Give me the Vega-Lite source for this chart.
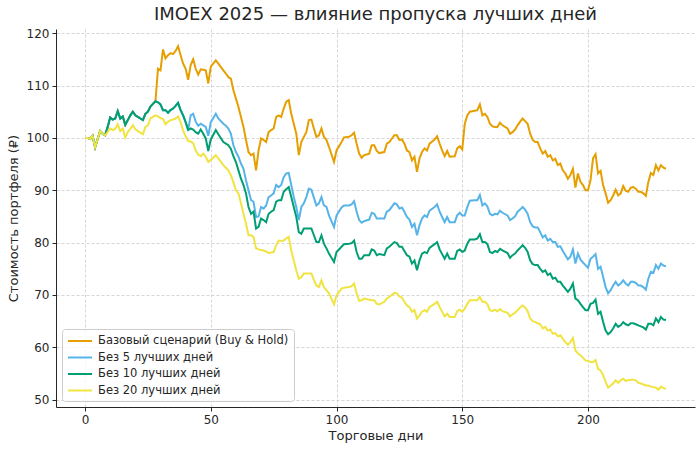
{
  "$schema": "https://vega.github.io/schema/vega-lite/v6.json",
  "width": 639,
  "height": 378,
  "autosize": {"type": "none"},
  "padding": {"left": 56, "top": 29, "right": 5, "bottom": 44},
  "background": "white",
  "title": {"text": "IMOEX 2025 — влияние пропуска лучших дней", "fontSize": 18, "font": "DejaVu Sans", "fontWeight": "normal", "color": "#262626", "offset": 3},
  "data": {"values": [
    {"d":0,"s0":100,"s1":100,"s2":100,"s3":100},
    {"d":1,"s0":100,"s1":100,"s2":100,"s3":100},
    {"d":2,"s0":99.8,"s1":99.8,"s2":99.8,"s3":99.8},
    {"d":3,"s0":100.4,"s1":100.4,"s2":100.4,"s3":100.4},
    {"d":4,"s0":98.2,"s1":98.2,"s2":98.2,"s3":98.2},
    {"d":5,"s0":99.8,"s1":99.8,"s2":99.8,"s3":99.8},
    {"d":6,"s0":101.3,"s1":101.3,"s2":101.3,"s3":101.3},
    {"d":7,"s0":100.8,"s1":100.8,"s2":100.8,"s3":100.8},
    {"d":8,"s0":100.5,"s1":100.5,"s2":100.5,"s3":100.5},
    {"d":9,"s0":102.1,"s1":102.1,"s2":102.1,"s3":101.1},
    {"d":10,"s0":103.9,"s1":103.9,"s2":103.9,"s3":101.8},
    {"d":11,"s0":103.5,"s1":103.5,"s2":103.5,"s3":101.5},
    {"d":12,"s0":103.7,"s1":103.7,"s2":103.7,"s3":101.7},
    {"d":13,"s0":105.1,"s1":105.1,"s2":105.1,"s3":102.6},
    {"d":14,"s0":103.7,"s1":103.7,"s2":103.7,"s3":101.3},
    {"d":15,"s0":104.1,"s1":104.1,"s2":104.1,"s3":101.8},
    {"d":16,"s0":102.5,"s1":102.5,"s2":102.5,"s3":100.1},
    {"d":17,"s0":103.4,"s1":103.4,"s2":103.4,"s3":101.1},
    {"d":18,"s0":104.3,"s1":104.3,"s2":104.3,"s3":101.7},
    {"d":19,"s0":105.0,"s1":105.0,"s2":105.0,"s3":102.4},
    {"d":20,"s0":104.3,"s1":104.3,"s2":104.3,"s3":101.7},
    {"d":21,"s0":104.0,"s1":104.0,"s2":104.0,"s3":101.3},
    {"d":22,"s0":103.7,"s1":103.7,"s2":103.7,"s3":101.0},
    {"d":23,"s0":103.4,"s1":103.4,"s2":103.4,"s3":100.7},
    {"d":24,"s0":104.6,"s1":104.6,"s2":104.6,"s3":102.1},
    {"d":25,"s0":105.0,"s1":105.0,"s2":105.0,"s3":102.4},
    {"d":26,"s0":106.0,"s1":106.0,"s2":106.0,"s3":103.7},
    {"d":27,"s0":106.5,"s1":106.5,"s2":106.5,"s3":104.0},
    {"d":28,"s0":107.0,"s1":107.0,"s2":107.0,"s3":104.3},
    {"d":29,"s0":113.2,"s1":106.8,"s2":106.8,"s3":104.1},
    {"d":30,"s0":112.9,"s1":106.4,"s2":106.4,"s3":103.8},
    {"d":31,"s0":116.9,"s1":105.3,"s2":105.3,"s3":103.6},
    {"d":32,"s0":115.2,"s1":105.3,"s2":105.3,"s3":102.6},
    {"d":33,"s0":115.8,"s1":104.8,"s2":104.8,"s3":103.1},
    {"d":34,"s0":116.2,"s1":105.3,"s2":105.3,"s3":103.4},
    {"d":35,"s0":116.0,"s1":105.6,"s2":105.6,"s3":103.5},
    {"d":36,"s0":116.6,"s1":106.1,"s2":106.1,"s3":103.7},
    {"d":37,"s0":117.5,"s1":106.7,"s2":106.7,"s3":104.1},
    {"d":38,"s0":115.8,"s1":105.3,"s2":105.3,"s3":103.0},
    {"d":39,"s0":114.2,"s1":104.3,"s2":104.3,"s3":101.4},
    {"d":40,"s0":113.2,"s1":103.0,"s2":103.0,"s3":100.3},
    {"d":41,"s0":111.1,"s1":101.5,"s2":101.5,"s3":99.4},
    {"d":42,"s0":113.9,"s1":104.3,"s2":101.8,"s3":99.3},
    {"d":43,"s0":115.0,"s1":104.6,"s2":101.6,"s3":99.0},
    {"d":44,"s0":113.2,"s1":103.1,"s2":101.1,"s3":97.6},
    {"d":45,"s0":112.1,"s1":102.3,"s2":100.8,"s3":96.8},
    {"d":46,"s0":113.1,"s1":102.7,"s2":101.6,"s3":96.5},
    {"d":47,"s0":113.0,"s1":102.4,"s2":100.8,"s3":97.0},
    {"d":48,"s0":112.9,"s1":102.1,"s2":99.9,"s3":96.4},
    {"d":49,"s0":110.4,"s1":100.4,"s2":97.5,"s3":95.4},
    {"d":50,"s0":113.6,"s1":103.0,"s2":99.7,"s3":95.8},
    {"d":52,"s0":114.8,"s1":104.6,"s2":101.5,"s3":96.7},
    {"d":53,"s0":114.2,"s1":103.7,"s2":100.7,"s3":96.1},
    {"d":55,"s0":112.9,"s1":102.7,"s2":99.2,"s3":94.8},
    {"d":56,"s0":112.3,"s1":102.3,"s2":98.9,"s3":94.3},
    {"d":57,"s0":111.6,"s1":101.8,"s2":98.6,"s3":93.8},
    {"d":58,"s0":111.3,"s1":100.8,"s2":97.9,"s3":92.9},
    {"d":59,"s0":109.1,"s1":98.6,"s2":96.5,"s3":91.5},
    {"d":60,"s0":107.5,"s1":97.3,"s2":95.4,"s3":90.0},
    {"d":61,"s0":105.9,"s1":96.4,"s2":93.8,"s3":89.4},
    {"d":62,"s0":104.0,"s1":95.1,"s2":92.2,"s3":87.5},
    {"d":63,"s0":102.1,"s1":94.1,"s2":91.0,"s3":85.5},
    {"d":64,"s0":99.6,"s1":91.9,"s2":89.4,"s3":83.6},
    {"d":65,"s0":97.3,"s1":90.0,"s2":86.8,"s3":81.4},
    {"d":66,"s0":96.7,"s1":88.1,"s2":85.5,"s3":81.4},
    {"d":67,"s0":97.0,"s1":87.8,"s2":85.9,"s3":81.1},
    {"d":68,"s0":93.8,"s1":84.9,"s2":82.7,"s3":78.9},
    {"d":69,"s0":97.6,"s1":85.0,"s2":83.0,"s3":78.7},
    {"d":70,"s0":99.9,"s1":86.8,"s2":84.6,"s3":78.6},
    {"d":71,"s0":99.6,"s1":86.5,"s2":84.3,"s3":78.5},
    {"d":72,"s0":99.2,"s1":87.1,"s2":83.9,"s3":78.3},
    {"d":73,"s0":101.1,"s1":88.7,"s2":85.5,"s3":78.0},
    {"d":74,"s0":101.5,"s1":89.0,"s2":85.9,"s3":78.1},
    {"d":75,"s0":101.8,"s1":89.4,"s2":86.2,"s3":78.2},
    {"d":76,"s0":104.0,"s1":91.0,"s2":87.8,"s3":79.5},
    {"d":77,"s0":104.3,"s1":90.6,"s2":88.1,"s3":80.4},
    {"d":78,"s0":104.0,"s1":91.0,"s2":88.1,"s3":80.3},
    {"d":79,"s0":105.6,"s1":92.5,"s2":89.7,"s3":80.4},
    {"d":80,"s0":106.9,"s1":93.2,"s2":90.2,"s3":80.8},
    {"d":81,"s0":107.2,"s1":93.3,"s2":90.6,"s3":81.1},
    {"d":82,"s0":104.6,"s1":91.0,"s2":88.7,"s3":78.5},
    {"d":83,"s0":102.7,"s1":88.7,"s2":86.8,"s3":76.6},
    {"d":84,"s0":100.8,"s1":86.8,"s2":84.9,"s3":74.7},
    {"d":85,"s0":96.7,"s1":84.3,"s2":82.0,"s3":73.1},
    {"d":86,"s0":99.2,"s1":86.8,"s2":81.7,"s3":73.4},
    {"d":87,"s0":100.2,"s1":87.5,"s2":82.7,"s3":74.1},
    {"d":88,"s0":101.1,"s1":88.7,"s2":82.7,"s3":74.1},
    {"d":89,"s0":103.4,"s1":90.3,"s2":82.7,"s3":74.1},
    {"d":90,"s0":103.5,"s1":90.1,"s2":82.7,"s3":74.1},
    {"d":91,"s0":101.8,"s1":88.6,"s2":81.4,"s3":72.9},
    {"d":92,"s0":100.2,"s1":87.1,"s2":80.1,"s3":71.8},
    {"d":93,"s0":100.5,"s1":87.5,"s2":80.1,"s3":71.5},
    {"d":94,"s0":101.8,"s1":88.7,"s2":81.4,"s3":72.8},
    {"d":95,"s0":100.2,"s1":87.1,"s2":79.8,"s3":71.5},
    {"d":96,"s0":99.6,"s1":86.8,"s2":78.9,"s3":70.9},
    {"d":97,"s0":98.3,"s1":85.2,"s2":77.9,"s3":70.3},
    {"d":99,"s0":95.4,"s1":83.0,"s2":76.3,"s3":68.2},
    {"d":100,"s0":97.6,"s1":85.2,"s2":78.2,"s3":69.9},
    {"d":102,"s0":99.2,"s1":86.7,"s2":79.2,"s3":71.2},
    {"d":103,"s0":100.1,"s1":87.1,"s2":79.7,"s3":71.4},
    {"d":105,"s0":100.2,"s1":87.1,"s2":79.8,"s3":71.5},
    {"d":106,"s0":100.5,"s1":87.3,"s2":79.9,"s3":71.7},
    {"d":107,"s0":101.0,"s1":87.9,"s2":80.4,"s3":72.2},
    {"d":108,"s0":98.9,"s1":85.9,"s2":78.2,"s3":70.3},
    {"d":109,"s0":97.0,"s1":84.3,"s2":76.9,"s3":68.9},
    {"d":110,"s0":96.2,"s1":83.8,"s2":76.9,"s3":69.0},
    {"d":111,"s0":96.7,"s1":84.1,"s2":77.6,"s3":69.3},
    {"d":113,"s0":97.0,"s1":84.4,"s2":77.6,"s3":69.1},
    {"d":114,"s0":98.6,"s1":85.7,"s2":78.7,"s3":69.0},
    {"d":115,"s0":98.6,"s1":85.5,"s2":78.5,"s3":69.0},
    {"d":116,"s0":97.5,"s1":84.6,"s2":77.6,"s3":68.3},
    {"d":117,"s0":97.1,"s1":84.6,"s2":77.8,"s3":68.2},
    {"d":119,"s0":97.3,"s1":84.6,"s2":77.6,"s3":68.7},
    {"d":120,"s0":98.9,"s1":85.9,"s2":78.9,"s3":69.3},
    {"d":121,"s0":99.2,"s1":86.2,"s2":79.2,"s3":69.6},
    {"d":123,"s0":100.5,"s1":87.5,"s2":80.1,"s3":70.4},
    {"d":124,"s0":100.5,"s1":87.3,"s2":79.9,"s3":70.3},
    {"d":125,"s0":99.6,"s1":86.5,"s2":79.2,"s3":69.7},
    {"d":126,"s0":99.7,"s1":86.7,"s2":79.2,"s3":69.5},
    {"d":127,"s0":98.9,"s1":85.9,"s2":78.4,"s3":68.7},
    {"d":128,"s0":97.6,"s1":84.9,"s2":77.6,"s3":68.0},
    {"d":129,"s0":97.3,"s1":84.4,"s2":77.3,"s3":67.7},
    {"d":130,"s0":95.7,"s1":83.0,"s2":76.0,"s3":66.8},
    {"d":131,"s0":96.4,"s1":83.6,"s2":76.6,"s3":67.1},
    {"d":132,"s0":93.5,"s1":81.4,"s2":74.7,"s3":65.5},
    {"d":133,"s0":96.1,"s1":83.3,"s2":76.6,"s3":66.1},
    {"d":134,"s0":97.3,"s1":84.6,"s2":77.9,"s3":66.8},
    {"d":135,"s0":98.0,"s1":85.2,"s2":78.2,"s3":67.1},
    {"d":136,"s0":97.6,"s1":84.9,"s2":78.0,"s3":66.8},
    {"d":137,"s0":98.9,"s1":86.1,"s2":79.0,"s3":67.7},
    {"d":139,"s0":99.7,"s1":86.8,"s2":79.7,"s3":68.3},
    {"d":140,"s0":100.3,"s1":87.3,"s2":80.1,"s3":68.7},
    {"d":141,"s0":98.9,"s1":85.9,"s2":78.7,"s3":67.7},
    {"d":142,"s0":97.6,"s1":84.9,"s2":77.8,"s3":66.8},
    {"d":143,"s0":96.5,"s1":83.9,"s2":76.9,"s3":65.9},
    {"d":144,"s0":97.5,"s1":84.9,"s2":77.9,"s3":66.4},
    {"d":145,"s0":96.4,"s1":83.9,"s2":76.9,"s3":65.8},
    {"d":147,"s0":96.5,"s1":83.9,"s2":76.9,"s3":65.8},
    {"d":148,"s0":98.0,"s1":85.2,"s2":78.4,"s3":66.9},
    {"d":149,"s0":98.4,"s1":85.7,"s2":78.7,"s3":67.2},
    {"d":150,"s0":97.8,"s1":85.2,"s2":78.2,"s3":66.8},
    {"d":151,"s0":102.7,"s1":85.2,"s2":78.5,"s3":67.4},
    {"d":152,"s0":104.3,"s1":86.8,"s2":79.8,"s3":68.3},
    {"d":153,"s0":105.0,"s1":88.0,"s2":80.6,"s3":69.0},
    {"d":155,"s0":105.2,"s1":88.1,"s2":80.6,"s3":69.0},
    {"d":156,"s0":105.3,"s1":88.1,"s2":80.8,"s3":69.0},
    {"d":157,"s0":106.4,"s1":89.1,"s2":81.6,"s3":69.6},
    {"d":158,"s0":104.3,"s1":87.1,"s2":80.1,"s3":68.7},
    {"d":159,"s0":104.6,"s1":87.5,"s2":80.1,"s3":68.7},
    {"d":160,"s0":104.0,"s1":86.9,"s2":79.7,"s3":68.2},
    {"d":161,"s0":102.7,"s1":85.5,"s2":78.2,"s3":67.1},
    {"d":162,"s0":102.2,"s1":85.2,"s2":78.0,"s3":66.9},
    {"d":163,"s0":102.1,"s1":85.5,"s2":78.4,"s3":67.2},
    {"d":164,"s0":102.1,"s1":85.4,"s2":78.2,"s3":66.9},
    {"d":165,"s0":102.9,"s1":86.1,"s2":78.8,"s3":67.3},
    {"d":166,"s0":102.4,"s1":85.7,"s2":78.5,"s3":66.9},
    {"d":168,"s0":101.8,"s1":85.2,"s2":78.0,"s3":66.6},
    {"d":169,"s0":100.8,"s1":84.3,"s2":77.1,"s3":65.9},
    {"d":170,"s0":101.1,"s1":84.6,"s2":77.6,"s3":66.3},
    {"d":171,"s0":101.6,"s1":85.0,"s2":77.9,"s3":66.6},
    {"d":172,"s0":102.4,"s1":85.9,"s2":78.5,"s3":67.1},
    {"d":173,"s0":103.1,"s1":86.3,"s2":79.0,"s3":67.6},
    {"d":174,"s0":103.7,"s1":86.8,"s2":79.5,"s3":68.0},
    {"d":175,"s0":103.2,"s1":86.3,"s2":79.0,"s3":67.6},
    {"d":176,"s0":102.7,"s1":85.5,"s2":78.2,"s3":66.9},
    {"d":177,"s0":100.8,"s1":83.9,"s2":76.6,"s3":65.5},
    {"d":178,"s0":99.6,"s1":83.1,"s2":75.9,"s3":65.0},
    {"d":179,"s0":99.2,"s1":82.9,"s2":75.7,"s3":64.8},
    {"d":180,"s0":99.2,"s1":82.9,"s2":75.7,"s3":64.6},
    {"d":181,"s0":98.0,"s1":82.0,"s2":75.0,"s3":64.4},
    {"d":182,"s0":97.0,"s1":81.0,"s2":74.4,"s3":63.6},
    {"d":183,"s0":97.5,"s1":81.4,"s2":74.7,"s3":63.9},
    {"d":184,"s0":96.4,"s1":80.4,"s2":73.8,"s3":63.2},
    {"d":185,"s0":96.7,"s1":80.7,"s2":74.1,"s3":63.4},
    {"d":186,"s0":95.7,"s1":80.1,"s2":73.1,"s3":62.6},
    {"d":187,"s0":96.0,"s1":80.1,"s2":73.3,"s3":62.7},
    {"d":188,"s0":94.8,"s1":79.2,"s2":72.5,"s3":62.1},
    {"d":189,"s0":95.1,"s1":79.3,"s2":72.5,"s3":62.3},
    {"d":190,"s0":93.8,"s1":78.4,"s2":71.8,"s3":61.6},
    {"d":191,"s0":93.2,"s1":77.6,"s2":71.2,"s3":61.0},
    {"d":192,"s0":92.2,"s1":76.8,"s2":70.6,"s3":60.5},
    {"d":193,"s0":92.9,"s1":77.3,"s2":71.2,"s3":61.0},
    {"d":194,"s0":94.1,"s1":78.7,"s2":72.2,"s3":61.8},
    {"d":195,"s0":90.5,"s1":76.0,"s2":69.3,"s3":59.4},
    {"d":196,"s0":93.2,"s1":77.9,"s2":69.0,"s3":58.8},
    {"d":197,"s0":91.6,"s1":76.8,"s2":68.3,"s3":58.5},
    {"d":198,"s0":91.0,"s1":76.2,"s2":67.7,"s3":58.0},
    {"d":199,"s0":90.0,"s1":75.7,"s2":67.1,"s3":57.5},
    {"d":200,"s0":90.0,"s1":75.2,"s2":67.1,"s3":57.4},
    {"d":201,"s0":91.9,"s1":76.9,"s2":68.3,"s3":57.2},
    {"d":202,"s0":96.1,"s1":77.3,"s2":68.5,"s3":57.2},
    {"d":203,"s0":96.9,"s1":77.8,"s2":69.1,"s3":57.6},
    {"d":204,"s0":93.2,"s1":75.0,"s2":66.4,"s3":55.9},
    {"d":205,"s0":93.7,"s1":75.4,"s2":66.8,"s3":55.6},
    {"d":206,"s0":91.0,"s1":73.5,"s2":64.9,"s3":54.7},
    {"d":207,"s0":89.4,"s1":71.5,"s2":63.2,"s3":53.4},
    {"d":208,"s0":87.6,"s1":70.3,"s2":62.5,"s3":52.3},
    {"d":209,"s0":88.1,"s1":70.9,"s2":62.9,"s3":52.7},
    {"d":210,"s0":89.0,"s1":71.8,"s2":63.6,"s3":53.1},
    {"d":211,"s0":90.1,"s1":72.5,"s2":64.5,"s3":53.7},
    {"d":212,"s0":89.0,"s1":71.8,"s2":63.9,"s3":53.2},
    {"d":213,"s0":89.4,"s1":72.2,"s2":64.2,"s3":53.7},
    {"d":214,"s0":90.8,"s1":72.8,"s2":64.8,"s3":54.0},
    {"d":215,"s0":89.9,"s1":72.2,"s2":64.4,"s3":53.6},
    {"d":216,"s0":89.7,"s1":71.8,"s2":64.2,"s3":53.7},
    {"d":217,"s0":90.5,"s1":72.5,"s2":64.6,"s3":53.8},
    {"d":218,"s0":90.6,"s1":72.5,"s2":64.6,"s3":53.8},
    {"d":219,"s0":90.3,"s1":72.3,"s2":64.4,"s3":53.7},
    {"d":220,"s0":89.7,"s1":71.8,"s2":64.2,"s3":53.2},
    {"d":221,"s0":89.7,"s1":71.8,"s2":64.0,"s3":53.1},
    {"d":222,"s0":89.4,"s1":71.5,"s2":63.8,"s3":52.9},
    {"d":223,"s0":88.9,"s1":71.0,"s2":63.4,"s3":52.7},
    {"d":224,"s0":91.6,"s1":73.1,"s2":64.5,"s3":52.7},
    {"d":225,"s0":93.3,"s1":74.4,"s2":64.5,"s3":52.5},
    {"d":226,"s0":92.9,"s1":74.2,"s2":64.2,"s3":52.4},
    {"d":227,"s0":94.8,"s1":75.7,"s2":65.5,"s3":52.3},
    {"d":228,"s0":93.8,"s1":75.0,"s2":64.8,"s3":51.9},
    {"d":229,"s0":94.8,"s1":76.0,"s2":65.8,"s3":52.5},
    {"d":230,"s0":94.3,"s1":75.6,"s2":65.3,"s3":52.2},
    {"d":231,"s0":94.1,"s1":75.5,"s2":65.2,"s3":52.1}
  ]},
  "transform": [{"fold": ["s0", "s1", "s2", "s3"], "as": ["series", "value"]}],
  "mark": {"type": "line", "strokeWidth": 2, "clip": true},
  "encoding": {
    "x": {"field": "d", "type": "quantitative",
      "scale": {"domain": [-11.55, 242.55], "nice": false, "zero": false},
      "axis": {"values": [0, 50, 100, 150, 200], "title": "Торговые дни", "titlePadding": 4}},
    "y": {"field": "value", "type": "quantitative",
      "scale": {"domain": [48.6, 120.8], "nice": false, "zero": false},
      "axis": {"values": [50, 60, 70, 80, 90, 100, 110, 120], "title": "Стоимость портфеля (₽)", "titlePadding": 6}},
    "color": {"field": "series", "type": "nominal",
      "scale": {"domain": ["s0", "s1", "s2", "s3"], "range": ["#E69F00", "#56B4E9", "#009E73", "#F0E442"]},
      "legend": {
        "title": null,
        "orient": "none",
        "legendX": 6,
        "legendY": 300,
        "labelExpr": "datum.value == 's0' ? 'Базовый сценарий (Buy & Hold)' : datum.value == 's1' ? 'Без 5 лучших дней' : datum.value == 's2' ? 'Без 10 лучших дней' : 'Без 20 лучших дней'",
        "symbolType": "M-1,0H3",
        "symbolSize": 144,
        "symbolStrokeWidth": 2,
        "labelOffset": 17,
        "labelFont": "DejaVu Sans",
        "labelFontSize": 11.5,
        "labelColor": "#262626",
        "labelLimit": 400,
        "rowPadding": 3.5,
        "padding": 5,
        "fillColor": "rgba(255,255,255,0.8)",
        "strokeColor": "#cccccc",
        "cornerRadius": 3
      }}
  },
  "config": {
    "view": {"stroke": null},
    "axis": {
      "domainColor": "#262626",
      "domainWidth": 1,
      "tickColor": "#262626",
      "tickSize": 4,
      "labelFont": "DejaVu Sans",
      "labelFontSize": 12,
      "labelColor": "#262626",
      "labelPadding": 3,
      "titleFont": "DejaVu Sans",
      "titleFontSize": 13,
      "titleFontWeight": "normal",
      "titleColor": "#262626",
      "grid": true,
      "gridColor": "#cccccc",
      "gridDash": [3, 2],
      "gridWidth": 0.8
    }
  }
}
